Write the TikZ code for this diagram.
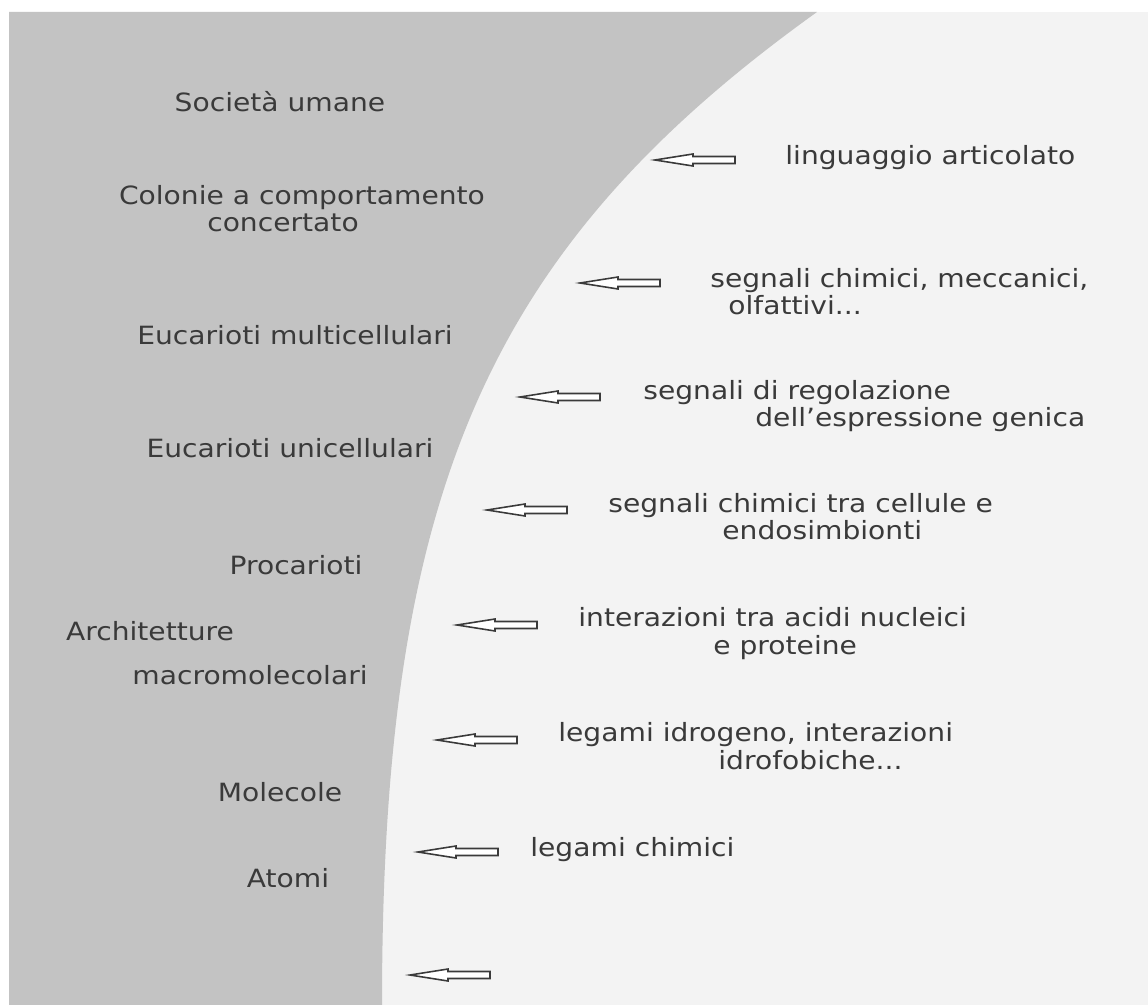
\documentclass[tikz,border=0pt]{standalone}
\usepackage{fontspec}
\setmainfont{DejaVu Sans}[FakeStretch=1.12]
\usepackage{tikz}
\usetikzlibrary{positioning}
\definecolor{paper}{HTML}{F3F3F3}
\definecolor{greyside}{HTML}{C3C3C3}
\definecolor{ink}{HTML}{3A3A3A}
\tikzstyle{level} = [text=ink, font=\fontsize{14.3}{15.4}\selectfont, align=center, inner sep=0pt, anchor=mid]
\tikzstyle{link} = [text=ink, font=\fontsize{14.3}{15.4}\selectfont, inner sep=0pt, anchor=mid west]
\tikzstyle{sig} = [draw=ink, fill=white, line width=0.9pt, line join=miter]
% hollow arrow, tip at #1
\newcommand{\sigarrow}[1]{\draw[sig] (#1) -- ++(38,-6) -- ++(0,2.5) -- ++(42,0) -- ++(0,7) -- ++(-42,0) -- ++(0,2.5) -- cycle;}

\begin{document}
\begin{tikzpicture}[x=0.2mm, y=-0.2mm]
\useasboundingbox (0,0) rectangle (1148,1005);
\fill[white] (0,0) rectangle (1148,1005);
\fill[paper] (9,12) rectangle (1148,1005);
% gray side
\fill[greyside] (9,1005) -- (9,12) -- (817,12) .. controls (485,250) and (382,494) .. (382,1005) -- cycle;

% levels
\node (soc) [level] at (280,107) {Società umane};
\node (col) [level] at (302,200) {Colonie a comportamento};
\node (colb) [level] at (283,227) {concertato};
\node (multi) [level] at (295,340) {Eucarioti multicellulari};
\node (uni) [level] at (290,453) {Eucarioti unicellulari};
\node (proc) [level] at (296,570) {Procarioti};
\node (arch) [level] at (150,636) {Architetture};
\node (archb) [level] at (250,680) {macromolecolari};
\node (mol) [level] at (280,797) {Molecole};
\node (atom) [level] at (288,883) {Atomi};

% arrow tips
\coordinate (a1) at (655,160);
\coordinate (a2) at (580,283);
\coordinate (a3) at (520,397);
\coordinate (a4) at (487,510);
\coordinate (a5) at (457,625);
\coordinate (a6) at (437,740);
\coordinate (a7) at (418,852);
\coordinate (a8) at (410,975);
\foreach \a in {a1,a2,a3,a4,a5,a6,a7,a8} {\sigarrow{\a}}

% signals
\node (t1) [link] at (785,160) {linguaggio articolato};
\node (t2) [link] at (710,283) {segnali chimici, meccanici,};
\node (t2b) [link] at (728,310) {olfattivi...};
\node (t3) [link] at (643,395) {segnali di regolazione};
\node (t3b) [link] at (755,422) {dell’espressione genica};
\node (t4) [link] at (608,508) {segnali chimici tra cellule e};
\node (t4b) [link] at (722,535) {endosimbionti};
\node (t5) [link] at (578,622) {interazioni tra acidi nucleici};
\node (t5b) [link] at (713,650) {e proteine};
\node (t6) [link] at (558,737) {legami idrogeno, interazioni};
\node (t6b) [link] at (718,765) {idrofobiche...};
\node (t7) [link] at (530,852) {legami chimici};
\end{tikzpicture}
\end{document}
